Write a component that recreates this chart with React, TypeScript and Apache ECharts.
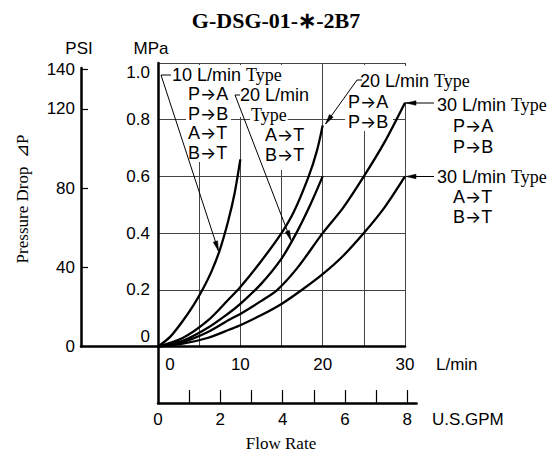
import React, { useEffect, useRef } from "react";
import * as echarts from "echarts";

// ---------- data ----------
const flowLabelValues = [0, 10, 20, 30]; // L/min
const gpmLabelValues = [0, 2, 4, 6, 8]; // U.S.GPM
const gpmTickValues = [1, 2, 3, 4, 5, 6, 7, 8];
const psiLabelValues = [0, 40, 80, 120, 140];
const psiTickValues = [40, 80, 120, 140];

// [flow L/min, pressure drop MPa]
const type10All: [number, number][] = [
  [0, 0], [1.5, 0.035], [3, 0.09], [4.3, 0.145], [5.4, 0.2], [6.5, 0.265],
  [7.5, 0.34], [8.5, 0.44], [9.3, 0.54], [10, 0.66],
];
const type20PAPB: [number, number][] = [
  [0, 0], [3, 0.03], [6, 0.09], [8.7, 0.17], [10, 0.21], [12.5, 0.3],
  [15, 0.4], [16.5, 0.475], [18.3, 0.6], [19.3, 0.69], [20, 0.78],
];
const type20ATBT: [number, number][] = [
  [0, 0], [3, 0.02], [6, 0.065], [8.7, 0.12], [10, 0.15], [12.5, 0.22],
  [15, 0.31], [16.8, 0.4], [18.5, 0.5], [20, 0.6],
];
const type30PAPB: [number, number][] = [
  [0, 0], [3, 0.015], [6, 0.05], [8.7, 0.095], [10, 0.115], [12.5, 0.16],
  [14.5, 0.2], [17, 0.28], [20, 0.4], [22.5, 0.49], [25, 0.6], [27.5, 0.72], [30, 0.86],
];
const type30ATBT: [number, number][] = [
  [0, 0], [3, 0.01], [6, 0.03], [8.7, 0.06], [10, 0.075], [12.5, 0.11],
  [15, 0.15], [17.5, 0.2], [20, 0.255], [22.5, 0.32], [25, 0.4], [27.5, 0.49], [30, 0.6],
];

const SANS = "'Liberation Sans', Arial, sans-serif";
const SERIF = "'Liberation Serif', 'Times New Roman', serif";
const ARROWFONT = "Inter, 'DejaVu Sans', sans-serif";

const RICH = {
  s: { fontFamily: SANS, fontSize: 18, lineHeight: 17, fill: "#000" },
  t: { fontFamily: SERIF, fontSize: 18, lineHeight: 17, fill: "#000" },
  a: { fontFamily: ARROWFONT, fontSize: 17, lineHeight: 17, fill: "#000" },
};

function rtext(text: string, x: number, y: number, extra: any = {}) {
  return {
    type: "text",
    x,
    y,
    z: 3,
    style: {
      text,
      rich: RICH,
      fill: "#000",
      fontFamily: SANS,
      fontSize: 18,
      lineHeight: 17,
      align: "left",
      verticalAlign: "middle",
      ...extra,
    },
  };
}

const port = (a: string, b: string) => `{s|${a}}{a|\u2192}{s|${b}}`;
const typeLabel = (flow: string) => `{s|${flow} L/min }{t|Type}`;

function leader(points: number[][]) {
  const n = points.length;
  const [x1, y1] = points[n - 2];
  const [x2, y2] = points[n - 1];
  const d = Math.hypot(x2 - x1, y2 - y1);
  const ux = (x2 - x1) / d;
  const uy = (y2 - y1) / d;
  const len = 10;
  const half = 2.3;
  const bx = x2 - ux * len;
  const by = y2 - uy * len;
  return [
    {
      type: "polyline",
      z: 4,
      shape: { points },
      style: { stroke: "#000", lineWidth: 1, fill: null },
    },
    {
      type: "polygon",
      z: 4,
      shape: {
        points: [
          [x2, y2],
          [bx - uy * half, by + ux * half],
          [bx + uy * half, by - ux * half],
        ],
      },
      style: { fill: "#000", stroke: "#000", lineWidth: 0.5 },
    },
  ];
}

function whiteRect(x: number, y: number, width: number, height: number) {
  return { type: "rect", z: 1, shape: { x, y, width, height }, style: { fill: "#fff" } };
}

const labelStyle = { color: "#000", fontFamily: SANS, fontSize: 17 };
const axisLineStyle = { color: "#000", width: 2.5 };

function buildOption() {
  const curve = (name: string, data: [number, number][]) => ({
    name,
    type: "line",
    xAxisIndex: 0,
    yAxisIndex: 0,
    data,
    smooth: 0.3,
    showSymbol: false,
    symbol: "none",
    z: 2,
    lineStyle: { color: "#000", width: 2.3 },
  });

  const graphic: any[] = [
    // gaps in the grid behind the annotation blocks
    whiteRect(186, 65, 45, 97),
    whiteRect(236, 65, 66, 52),
    whiteRect(262, 123, 46, 47),
    whiteRect(345, 65, 48, 66),
    whiteRect(399, 66, 10, 36),
    // title
    rtext("G-DSG-01-\u2217-2B7", 276, 20, { fontFamily: SERIF, fontWeight: "bold", fontSize: 22, lineHeight: 24, align: "center" }),
    // axis headers
    rtext("PSI", 79, 48, { fontSize: 17, align: "center" }),
    rtext("MPa", 151, 48, { fontSize: 17, align: "center" }),
    rtext("L/min", 436, 364, { fontSize: 17 }),
    rtext("U.S.GPM", 432, 419, { fontSize: 17 }),
    rtext("Flow Rate", 281, 443, { fontFamily: SERIF, fontSize: 17, align: "center" }),
    {
      type: "text",
      x: 22,
      y: 199,
      rotation: Math.PI / 2,
      z: 3,
      style: {
        text: "Pressure Drop  \u22BFP",
        fill: "#000",
        fontFamily: SERIF,
        fontSize: 17,
        align: "center",
        verticalAlign: "middle",
      },
    },
    // 10 L/min group
    rtext(typeLabel("10"), 172, 75),
    rtext(port("P", "A"), 188, 94),
    rtext(port("P", "B"), 188, 113.5),
    rtext(port("A", "T"), 188, 133),
    rtext(port("B", "T"), 188, 152.5),
    ...leader([[171, 75], [161, 75], [218.5, 251]]),
    // 20 L/min A->T group
    rtext("{s|20 L/min}", 240, 95),
    rtext("{t|Type}", 250, 115, { backgroundColor: "#fff", padding: [0, 1] }),
    rtext(port("A", "T"), 265, 135),
    rtext(port("B", "T"), 265, 155),
    ...leader([[240, 95], [235, 95], [291, 240.5]]),
    // 20 L/min P->A group
    rtext(typeLabel("20"), 360, 81),
    rtext(port("P", "A"), 348, 101.5),
    rtext(port("P", "B"), 348, 122),
    ...leader([[362, 80], [357, 80], [325.5, 124]]),
    // 30 L/min P->A group
    rtext(typeLabel("30"), 437, 105),
    rtext(port("P", "A"), 453, 126),
    rtext(port("P", "B"), 453, 147),
    ...leader([[434, 103], [406, 103]]),
    // 30 L/min A->T group
    rtext(typeLabel("30"), 437, 177),
    rtext(port("A", "T"), 453, 197),
    rtext(port("B", "T"), 453, 217),
    ...leader([[434, 176.5], [406, 176.5]]),
  ];

  return {
    animation: false,
    backgroundColor: "#fff",
    grid: [
      { left: 158, top: 63, width: 247, height: 283.5 },
      { left: 158, top: 346.5, width: 258.6, height: 56.5 },
      { left: 81, top: 68, width: 77, height: 278.5 },
    ],
    xAxis: [
      {
        type: "value",
        gridIndex: 0,
        min: 0,
        max: 30,
        interval: 5,
        axisLine: { show: true, onZero: false, lineStyle: axisLineStyle },
        axisTick: { show: false },
        splitLine: { show: true, lineStyle: { color: "#444", width: 1 } },
        axisLabel: {
          ...labelStyle,
          margin: 9,
          customValues: flowLabelValues,
          formatter: (v: number) => (v === 0 ? "{z|0}" : String(v)),
          rich: { z: { ...labelStyle, padding: [0, 0, 0, 24] } },
        },
      },
      {
        type: "value",
        gridIndex: 1,
        min: 0,
        max: 8.3,
        interval: 1,
        axisLine: { show: true, onZero: false, lineStyle: axisLineStyle },
        axisTick: {
          show: true,
          inside: true,
          length: 13,
          customValues: gpmTickValues,
          lineStyle: { color: "#000", width: 1.2 },
        },
        splitLine: { show: false },
        axisLabel: { ...labelStyle, margin: 8, customValues: gpmLabelValues },
      },
      {
        type: "value",
        gridIndex: 2,
        min: 0,
        max: 1,
        axisLine: { show: true, onZero: false, lineStyle: axisLineStyle },
        axisTick: { show: false },
        axisLabel: { show: false },
        splitLine: { show: false },
      },
    ],
    yAxis: [
      {
        type: "value",
        gridIndex: 0,
        min: 0,
        max: 1,
        interval: 0.2,
        axisLine: { show: true, onZero: false, lineStyle: axisLineStyle },
        axisTick: { show: false },
        splitLine: { show: true, lineStyle: { color: "#444", width: 1 } },
        axisLabel: {
          ...labelStyle,
          margin: 8,
          formatter: (v: number) =>
            v === 0 ? "{b|0}" : v === 1 ? "{t|1.0}" : v.toFixed(1),
          rich: {
            b: { ...labelStyle, padding: [0, 0, 20, 0] },
            t: { ...labelStyle, padding: [18, 0, 0, 0] },
          },
        },
      },
      {
        type: "value",
        gridIndex: 1,
        min: 0,
        max: 1,
        axisLine: { show: true, onZero: false, lineStyle: axisLineStyle },
        axisTick: { show: false },
        axisLabel: { show: false },
        splitLine: { show: false },
      },
      {
        type: "value",
        gridIndex: 2,
        min: 0,
        max: 140.7,
        axisLine: { show: true, onZero: false, lineStyle: axisLineStyle },
        axisTick: {
          show: true,
          inside: true,
          length: 7,
          customValues: psiTickValues,
          lineStyle: { color: "#000", width: 1.2 },
        },
        axisLabel: { ...labelStyle, margin: 6, customValues: psiLabelValues },
        splitLine: { show: false },
      },
    ],
    series: [
      curve("10 L/min Type", type10All),
      curve("20 L/min Type P-A P-B", type20PAPB),
      curve("20 L/min Type A-T B-T", type20ATBT),
      curve("30 L/min Type P-A P-B", type30PAPB),
      curve("30 L/min Type A-T B-T", type30ATBT),
    ],
    graphic,
  };
}

export default function App() {
  const ref = useRef<HTMLDivElement>(null);
  useEffect(() => {
    if (!ref.current) return;
    const chart = echarts.init(ref.current, null, { renderer: "svg" });
    chart.setOption(buildOption() as any);
    return () => chart.dispose();
  }, []);
  return (
    <div
      ref={ref}
      style={{ position: "absolute", left: 0, top: 0, width: 558, height: 455, background: "#fff" }}
    />
  );
}
